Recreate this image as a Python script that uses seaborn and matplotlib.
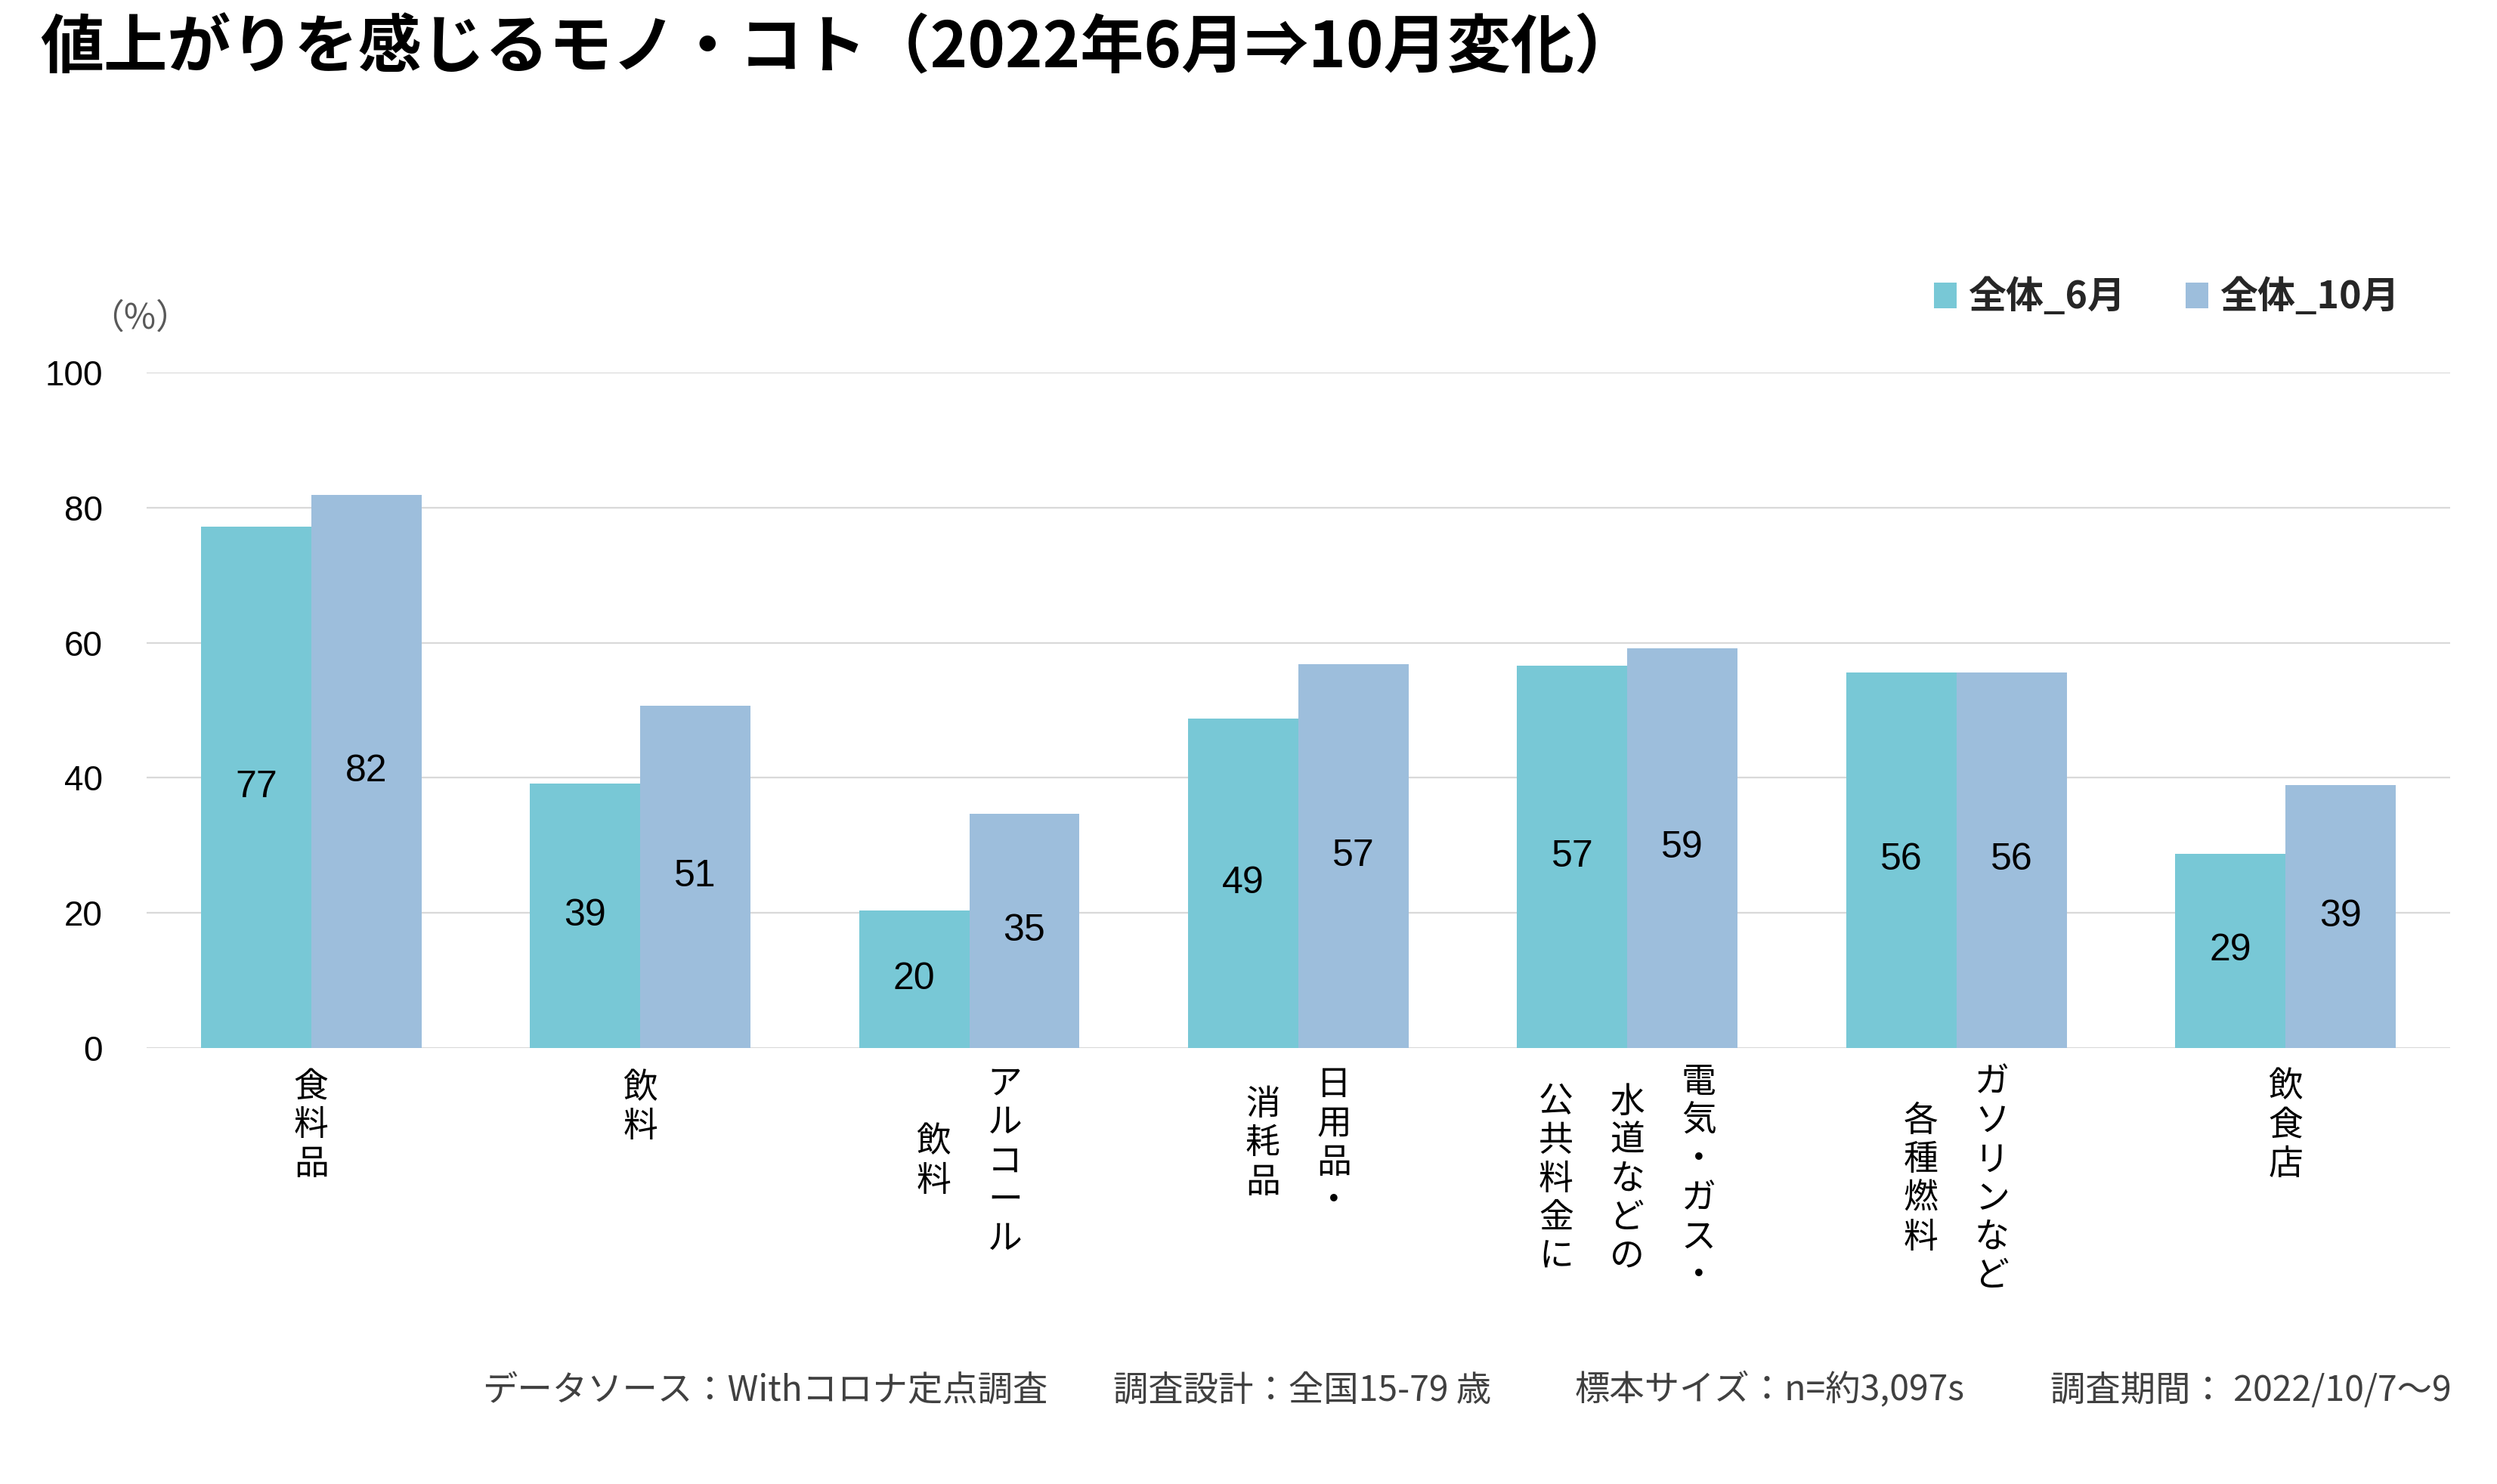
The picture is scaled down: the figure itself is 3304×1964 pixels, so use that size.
import pandas as pd
import matplotlib.pyplot as plt
import seaborn as sns

# データ
categories = ["食料品", "飲料", "アルコール飲料", "日用品・消耗品", "電気・ガス・水道などの公共料金に", "ガソリンなど各種燃料", "飲食店"]
# 縦書きラベル（右の列から順に）
label_columns = [["食料品"], ["飲料"], ["アルコール", "飲料"], ["日用品・", "消耗品"],
                 ["電気・ガス・", "水道などの", "公共料金に"], ["ガソリンなど", "各種燃料"], ["飲食店"]]
series_names = ["全体_6月", "全体_10月"]
values_jun = [77.2, 39.2, 20.3, 48.8, 56.6, 55.6, 28.8]
values_oct = [81.9, 50.7, 34.7, 56.8, 59.2, 55.6, 38.9]
colors = ["#78C8D6", "#9DBEDC"]
yticks = [0, 20, 40, 60, 80, 100]

title = "値上がりを感じるモノ・コト（2022年6月⇒10月変化）"
footer_parts = ["データソース：Withコロナ定点調査", "調査設計：全国15-79 歳", "標本サイズ：n=約3,097s", "調査期間： 2022/10/7〜9"]
footer_x = [0.193, 0.4457, 0.6303, 0.821]

df = pd.DataFrame({
    "category": categories * 2,
    "series": [series_names[0]] * len(categories) + [series_names[1]] * len(categories),
    "value": values_jun + values_oct,
})

sns.set_style("white")
plt.rcParams['font.family'] = ['Liberation Sans', 'Noto Sans CJK JP']
jp = ['Noto Sans CJK JP', 'DejaVu Sans']

fig = plt.figure(figsize=(16.525, 9.82), dpi=200)
ax = fig.add_axes([0.0587, 0.2938, 0.9222, 0.4552])

sns.barplot(data=df, x="category", y="value", hue="series", palette=colors,
            width=0.67, gap=0, saturation=1, linewidth=0, edgecolor="none", ax=ax)

ax.set_ylim(0, 100)
ax.set_xlim(-0.5, len(categories) - 0.5)
ax.set_yticks(yticks)
ax.yaxis.grid(True, color="#D9D9D9", linewidth=0.8)
ax.set_axisbelow(True)
for s in ax.spines.values():
    s.set_visible(False)
ax.tick_params(axis='y', length=0, pad=21, labelsize=16.5, labelcolor='#000000')
ax.tick_params(axis='x', length=0, labelbottom=False)
ax.set_xlabel("")
ax.set_ylabel("")

# データラベル
for cont in ax.containers:
    ax.bar_label(cont, fmt="%.0f", label_type="center", fontsize=18, color="#000000")

# 縦書きのカテゴリラベル
pitch_pt = 34
for i, cols in enumerate(label_columns):
    n = len(cols)
    nmax = max(len(c) for c in cols)
    cy = -(11 + nmax * 17.2 / 2)
    for k, col in enumerate(cols):
        dx = ((n - 1) / 2 - k) * pitch_pt
        ax.annotate("\n".join(col), xy=(i, 0), xycoords='data', xytext=(dx, cy),
                    textcoords='offset points', ha='center', va='center',
                    multialignment='center', linespacing=1.075, fontsize=16.5,
                    family=jp, color='#000000', annotation_clip=False)

# 凡例
sns.move_legend(ax, "center right", bbox_to_anchor=(0.9607, 0.7994), bbox_transform=fig.transFigure,
                ncol=2, title=None, frameon=False, borderaxespad=0, borderpad=0,
                handlelength=0.6, handleheight=0.65, handletextpad=0.3, columnspacing=1.6,
                prop={'family': jp, 'weight': 'bold', 'size': 18})

# 単位
fig.text(0.056, 1 - 421 / 1964, "（%）", ha='center', va='center', fontsize=16.5, family=jp, color='#595959')

# タイトル
fig.text(0.016, 0.967, title, ha='left', va='center', fontsize=30.3, fontweight='bold', family=jp, color='#000000')

# 出典
for txt, x in zip(footer_parts, footer_x):
    fig.text(x, 0.0631, txt, ha='left', va='center', fontsize=16.7, family=jp, color='#404040')

plt.savefig("out.png", dpi=200)
